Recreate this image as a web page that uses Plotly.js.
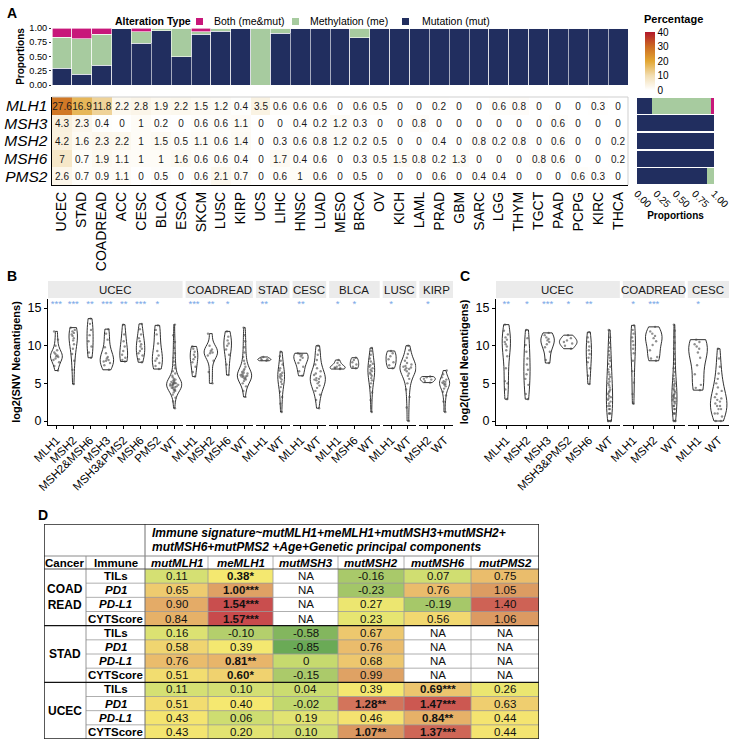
<!DOCTYPE html>
<html>
<head>
<meta charset="utf-8">
<script src="https://cdn.plot.ly/plotly-3.0.1.min.js"></script>
<style>
html,body{margin:0;padding:0;background:#ffffff;}
#chart{width:738px;height:746px;}
</style>
</head>
<body>
<div id="chart"></div>
<script>
// ================= DATA =================
// Panel A
const cancers = ['UCEC','STAD','COADREAD','ACC','CESC','BLCA','ESCA','SKCM','LUSC','KIRP','UCS','LIHC','HNSC','LUAD','MESO','BRCA','OV','KICH','LAML','PRAD','GBM','SARC','LGG','THYM','TGCT','PAAD','PCPG','KIRC','THCA'];
const mutProp  = [0.29,0.19,0.35,1,0.73,0.95,0.50,0.89,0.94,1,0,0.91,1,1,1,0.83,1,1,1,1,1,1,1,1,1,1,1,1,1];
const meProp   = [0.55,0.62,0.54,0,0.20,0.05,0.50,0.04,0.06,0,1,0.09,0,0,0,0.17,0,0,0,0,0,0,0,0,0,0,0,0,0];
const bothProp = [0.16,0.19,0.11,0,0.07,0,0,0.07,0,0,0,0,0,0,0,0,0,0,0,0,0,0,0,0,0,0,0,0,0];
const alterationTypes = ['Both (me&mut)','Methylation (me)','Mutation (mut)'];
const genes = ['MLH1','MSH3','MSH2','MSH6','PMS2'];
const pctMLH1 = [27.6,16.9,11.8,2.2,2.8,1.9,2.2,1.5,1.2,0.4,3.5,0.6,0.6,0.6,0,0.6,0.5,0,0,0.2,0,0,0.6,0.8,0,0,0,0.3,0];
const pctMSH3 = [4.3,2.3,0.4,0,1,0.2,0,0.6,0.6,1.1,0,0,0.4,0.2,1.2,0.3,0,0,0.8,0,0,0,0,0,0,0.6,0,0,0];
const pctMSH2 = [4.2,1.6,2.3,2.2,1,1.5,0.5,1.1,0.6,1.4,0,0.3,0.6,0.8,1.2,0.2,0.5,0,0,0.4,0,0.8,0.2,0.8,0,0.6,0,0,0.2];
const pctMSH6 = [7,0.7,1.9,1.1,1,1,1.6,0.6,0.6,0.4,0,1.7,0.4,0.6,0,0.3,0.5,1.5,0.8,0.2,1.3,0,0,0,0.8,0.6,0,0,0.2];
const pctPMS2 = [2.6,0.7,0.9,1.1,0,0.5,0,0.6,2.1,0.7,0,0.6,1,0.6,0,0.5,0,0,0,0.6,0,0.4,0.4,0,0,0,0.6,0.3,0];
const geneMutProp  = [0.20,1,1,1,0.905];
const geneMeProp   = [0.755,0,0,0,0.095];
const geneBothProp = [0.045,0,0,0,0];
const pctTicks  = [0,10,20,30,40];
const propTicks = [0,0.25,0.5,0.75,1];

// Panel B (log2 SNV neoantigens)
const snvFacets = ['UCEC','COADREAD','STAD','CESC','BLCA','LUSC','KIRP'];
const snvGroupsUCEC = ['MLH1','MSH2','MSH2&MSH6','MSH3','MSH3&PMS2','MSH6','PMS2','WT'];
const snvGroupsCOADREAD = ['MLH1','MSH2','MSH6','WT'];
const snvGroupsSTAD = ['MLH1','WT'];
const snvGroupsCESC = ['MLH1','WT'];
const snvGroupsBLCA = ['MLH1','MSH6','WT'];
const snvGroupsLUSC = ['MLH1','WT'];
const snvGroupsKIRP = ['MSH2','WT'];
const snvStarsUCEC = ['***','***','**','***','**','***','*',''];
const snvStarsCOADREAD = ['***','**','*',''];
const snvStarsSTAD = ['**',''];
const snvStarsCESC = ['**',''];
const snvStarsBLCA = ['*','*',''];
const snvStarsLUSC = ['*',''];
const snvStarsKIRP = ['*',''];
const snvUCEC = [
  [6.7,7.3,7.8,8.1,8.3,8.5,8.6,8.7,8.9,9.1,9.4,10.0,10.8,11.9],
  [4.9,6.8,8.0,8.9,9.6,10.2,10.7,11.0,11.3,11.5,11.7,11.9,12.1,12.4],
  [8.4,9.1,9.9,10.6,11.4,12.1,12.9,13.6],
  [6.8,7.4,7.7,7.9,8.0,8.1,8.3,8.5,9.0,9.8,10.8,11.6,12.2],
  [7.9,8.1,8.4,8.8,9.3,9.9,10.6,11.5,12.8],
  [7.8,8.2,8.7,9.0,9.3,9.6,9.9,10.2,10.6,11.0,11.5,12.2,12.9],
  [6.9,7.3,7.7,8.0,8.3,8.7,9.3,10.3,11.5,12.1,12.7],
  [1.7,2.6,3.1,3.5,3.8,4.0,4.1,4.2,4.3,4.4,4.5,4.5,4.6,4.7,4.7,4.8,4.8,4.9,4.9,5.0,5.0,5.1,5.1,5.2,5.3,5.4,5.5,5.6,5.8,6.0,6.3,6.6,7.0,7.4,7.9,8.4,9.0,9.7,10.5,11.4,12.8]
];
const snvCOADREAD = [
  [5.9,6.5,7.2,7.8,8.2,8.5,8.8,9.2,9.6,9.9],
  [5.0,6.5,8.0,8.7,9.0,9.1,9.3,9.5,10.0,11.6],
  [6.1,7.5,8.8,9.5,10.0,10.3,10.7,11.2,11.9],
  [3.2,4.0,4.6,5.0,5.3,5.5,5.6,5.7,5.8,5.9,5.9,6.0,6.0,6.1,6.2,6.3,6.4,6.5,6.7,6.9,7.2,7.6,8.0,8.5,9.1,9.8,10.6,11.4,12.4]
];
const snvSTAD = [
  [8.0,8.1,8.2,8.3,8.5],
  [1.2,2.3,3.2,3.9,4.5,4.9,5.2,5.5,5.7,5.9,6.0,6.2,6.4,6.7,7.0,7.5,8.0,8.6,9.2]
];
const snvCESC = [
  [6.0,6.6,7.2,7.7,8.1,8.4,8.6,8.8,8.9,9.0],
  [1.7,2.8,3.5,4.0,4.4,4.7,5.0,5.2,5.4,5.5,5.6,5.7,5.9,6.1,6.3,6.6,7.0,7.5,8.1,8.8,9.4,10.0]
];
const snvBLCA = [
  [6.9,7.0,7.0,7.1,7.2,7.4,7.7,8.1],
  [7.0,7.2,7.5,7.8,8.1,8.4],
  [1.2,2.8,3.8,4.5,5.0,5.4,5.7,6.0,6.2,6.4,6.6,6.8,7.0,7.2,7.4,7.6,7.9,8.3,8.8,9.3,9.7]
];
const snvLUSC = [
  [7.0,7.4,7.8,8.2,8.6,9.0,9.3],
  [0.0,1.8,3.2,4.2,5.0,5.6,6.0,6.3,6.6,6.8,6.9,7.0,7.1,7.2,7.3,7.5,7.7,8.0,8.4,8.9,9.4,10.0]
];
const snvKIRP = [
  [5.1,5.3,5.5,5.6,5.8,5.9],
  [1.2,2.6,3.4,3.9,4.3,4.6,4.8,4.9,5.0,5.1,5.2,5.3,5.5,5.8,6.2,6.7]
];

// Panel C (log2 Indel neoantigens)
const indelFacets = ['UCEC','COADREAD','CESC'];
const indelGroupsUCEC = ['MLH1','MSH2','MSH3','MSH3&PMS2','MSH6','WT'];
const indelGroupsCOADREAD = ['MLH1','MSH2','WT'];
const indelGroupsCESC = ['MLH1','WT'];
const indelStarsUCEC = ['**','*','***','*','**',''];
const indelStarsCOADREAD = ['*','***',''];
const indelStarsCESC = ['*',''];
const indelUCEC = [
  [2.9,4.2,5.0,5.3,7.0,8.6,9.4,9.9,10.2,10.5,10.8,11.1,11.5,12.0,12.8],
  [2.9,3.6,4.8,5.6,6.2,6.8,7.5,8.3,9.2,10.1,11.0,12.1],
  [7.7,8.1,9.2,9.8,10.2,10.5,10.7,10.9,11.1,11.4,11.7],
  [9.6,10.0,10.3,10.5,10.7,11.0,11.4],
  [4.9,6.0,7.0,7.8,8.4,8.9,9.4,9.9,10.5,11.1,11.8],
  [0,0,0,0,1,1,1,1.58,1.58,2,2,2.32,2.58,2.81,3,3.17,3.32,3.58,3.81,4,4.17,4.46,4.75,5,5.25,5.58,5.86,6.17,6.5,6.86,7.2,7.58,8,8.4,8.8,9.3,9.8,10.4,11.1,12.1]
];
const indelCOADREAD = [
  [2.3,3.6,5.1,6.6,8.0,9.0,9.6,10.1,10.6,11.1,11.6,12.1,12.7],
  [8.0,8.3,8.5,9.4,10.1,10.6,11.0,11.3,11.6,11.9,12.5],
  [0,0,0,1,1,1,1.58,1.58,2,2,2.32,2.58,2.58,2.81,3,3,3.17,3.32,3.46,3.58,3.81,4,4.17,4.32,4.58,4.81,5.0,5.3,5.6,6.0,6.5,7.0,7.6,8.2,8.9,9.6,10.4,11.2,12.0,12.8]
];
const indelCESC = [
  [4.1,4.4,4.8,6.2,7.4,8.4,9.1,9.6,9.9,10.2,10.5,10.8],
  [0,0,0.6,1,1,1.58,1.58,2,2,2.32,2.58,2.81,3,3.17,3.58,4,4.46,5,5.6,6.3,7.2,8.3,9.6]
];

// Panel D (table)
const tableCancers = ['COAD<br>READ','STAD','UCEC'];
const immuneRows = ['<b>TILs</b>','<b><i>PD1</i></b>','<b><i>PD-L1</i></b>','<b>CYTScore</b>'];
const tableCols = ['mutMLH1','meMLH1','mutMSH3','mutMSH2','mutMSH6','mutPMS2'];
const coadVals = [[0.11,0.38,null,-0.16,0.07,0.75],[0.65,1.00,null,-0.23,0.76,1.05],[0.90,1.54,null,0.27,-0.19,1.40],[0.84,1.57,null,0.23,0.56,1.06]];
const coadSig  = [['','*','','','',''],['','***','','','',''],['','***','','','',''],['','***','','','','']];
const stadVals = [[0.16,-0.10,-0.58,0.67,null,null],[0.58,0.39,-0.85,0.76,null,null],[0.76,0.81,0,0.68,null,null],[0.51,0.60,-0.15,0.99,null,null]];
const stadSig  = [['','','','','',''],['','','','','',''],['','**','','','',''],['','*','','','','']];
const ucecVals = [[0.11,0.10,0.04,0.39,0.69,0.26],[0.51,0.40,-0.02,1.28,1.47,0.63],[0.43,0.06,0.19,0.46,0.84,0.44],[0.43,0.20,0.10,1.07,1.37,0.44]];
const ucecSig  = [['','','','','***',''],['','','','**','***',''],['','','','','**',''],['','','','**','***','']];
const tableHeader1 = 'Immune signature~mutMLH1+meMLH1+mutMSH3+mutMSH2+';
const tableHeader2 = 'mutMSH6+mutPMS2 +Age+Genetic principal components';

// ================= STYLE / LAYOUT =================
const W = 738, H = 746;
const FONT = 'Liberation Sans, Arial, Helvetica, sans-serif';
const px = (a,b)=>[a/W, b/W];
const py = (t,b)=>[1-b/H, 1-t/H];
const xp = v => v/W;
const yp = v => 1 - v/H;
const NAVY = '#212e5f', GREEN = '#a7cb9f', PINK = '#c8177a';
const pctScale = [[0,'#ffffff'],[0.25,'#f2ddb0'],[0.5,'#e2a632'],[0.75,'#cc6a22'],[1,'#b2182b']];
const tabStops = [[-0.85,'#6aaa56'],[-0.16,'#a9c96a'],[0,'#c6da6e'],[0.11,'#d5e073'],[0.27,'#ece670'],[0.40,'#f5e870'],[0.56,'#f1d870'],[0.70,'#ecc46e'],[0.85,'#e6b068'],[1.05,'#dc9c62'],[1.30,'#d2705a'],[1.57,'#c84a4c']];
const TMIN = -0.85, TMAX = 1.57;
const tabScale = tabStops.map((s,i)=>[i===0?0:(i===tabStops.length-1?1:(s[0]-TMIN)/(TMAX-TMIN)), s[1]]);

const data = [];
const shapes = [];
const annotations = [];

const layout = {
  width: W, height: H, autosize: false,
  margin: {l:0, r:0, t:0, b:0, pad:0},
  paper_bgcolor: '#ffffff', plot_bgcolor: '#ffffff',
  font: {family: FONT, color: '#000000'},
  barmode: 'stack', bargap: 0, violinmode: 'overlay',
  showlegend: false,
  xaxis: {domain:px(52,628), anchor:'y', type:'category', range:[-0.5, cancers.length-0.5], showticklabels:false, ticks:'', showline:false, showgrid:false, zeroline:false},
  yaxis: {domain:py(28,85), anchor:'x', range:[0,1], tickvals:propTicks, tickformat:'.2f', ticks:'outside', ticklen:2, tickcolor:'#333', tickfont:{size:9.2}, showgrid:false, zeroline:false, showline:false,
    title:{text:'<b>Proportions</b>', font:{size:10}, standoff:2}},
  xaxis2: {domain:px(52,628), anchor:'y2', type:'category', tickmode:'array', tickvals:cancers, ticktext:cancers, tickangle:-90, tickfont:{size:14}, ticks:'', showline:true, linecolor:'#000', linewidth:1.2, showgrid:false, zeroline:false},
  yaxis2: {domain:py(97,185), anchor:'x2', type:'category', tickmode:'array', tickvals:genes, ticktext:genes, autorange:'reversed', tickfont:{size:15.5, style:'italic'}, ticks:'', showline:true, linecolor:'#000', linewidth:1.5, showgrid:false, zeroline:false},
  xaxis3: {domain:px(637,714), anchor:'y3', range:[0,1], tickvals:propTicks, tickformat:'.2f', tickangle:45, tickfont:{size:10}, ticks:'', showline:false, showgrid:false, zeroline:false,
    title:{text:'<b>Proportions</b>', font:{size:10}, standoff:2}},
  yaxis3: {domain:py(97,185), anchor:'x3', type:'category', autorange:'reversed', showticklabels:false, ticks:'', showline:false, showgrid:false, zeroline:false},
  shapes: shapes, annotations: annotations
};

// ---- Panel A traces ----
const altColors = [PINK, GREEN, NAVY];
[[mutProp,alterationTypes[2],NAVY],[meProp,alterationTypes[1],GREEN],[bothProp,alterationTypes[0],PINK]].forEach(([v,n,c])=>{
  data.push({type:'bar', x:cancers, y:v, name:n, xaxis:'x', yaxis:'y', marker:{color:c, line:{color:'#ffffff', width:0.6}}, hoverinfo:'skip', showlegend:false});
});
data.push({type:'heatmap', x:cancers, y:genes, z:[pctMLH1,pctMSH3,pctMSH2,pctMSH6,pctPMS2], xaxis:'x2', yaxis:'y2',
  zmin:0, zmax:40, colorscale:pctScale, texttemplate:'%{z}', textfont:{size:10, color:'#1a1a1a', family:FONT},
  hoverinfo:'skip', showlegend:false,
  colorbar:{x:xp(645), xanchor:'left', y:yp(32), yanchor:'top',
    len:58, lenmode:'pixels', thickness:10, thicknessmode:'pixels', outlinewidth:0, ticks:'', tickvals:pctTicks, tickfont:{size:10}, xpad:0, ypad:0}});
annotations.push({xref:'paper', yref:'paper', x:xp(642), y:yp(19.5), text:'<b>Percentage</b>', showarrow:false, xanchor:'left', yanchor:'middle', font:{size:11}});
[[geneMutProp,NAVY],[geneMeProp,GREEN],[geneBothProp,PINK]].forEach(([v,c])=>{
  data.push({type:'bar', orientation:'h', y:genes, x:v, xaxis:'x3', yaxis:'y3', width:0.9, marker:{color:c, line:{width:0}}, showlegend:false, hoverinfo:'skip'});
});
// heatmap panel border (top/right)
shapes.push({type:'line', xref:'x2 domain', yref:'y2 domain', x0:0, x1:1, y0:1, y1:1, line:{color:'#cfcfcf', width:1}});
shapes.push({type:'line', xref:'x2 domain', yref:'y2 domain', x0:1, x1:1, y0:0, y1:1, line:{color:'#cfcfcf', width:1}});
// legend (Alteration Type)
const LEG = {y:21.5, title:113, keys:[196,292,402], texts:[212,308,420], size:7};
annotations.push({xref:'paper', yref:'paper', x:xp(LEG.title), y:yp(LEG.y), text:'<b>Alteration Type</b>', showarrow:false, xanchor:'left', yanchor:'middle', font:{size:10.5}});
alterationTypes.forEach((t,i)=>{
  shapes.push({type:'rect', xref:'paper', yref:'paper', x0:xp(LEG.keys[i]), x1:xp(LEG.keys[i]+LEG.size), y0:yp(LEG.y+LEG.size/2), y1:yp(LEG.y-LEG.size/2), fillcolor:altColors[i], line:{width:0}});
  annotations.push({xref:'paper', yref:'paper', x:xp(LEG.texts[i]), y:yp(LEG.y), text:t, showarrow:false, xanchor:'left', yanchor:'middle', font:{size:10.5}});
});

// ---- Panels B & C ----
const STAR_Y = 15.5;
const violinWidthsB = [[0.7,0.5,0.36,0.8,0.46,0.5,0.6,0.9],[0.45,0.8,0.45,0.85],[0.78,0.4],[0.85,0.9],[0.9,0.5,0.4],[0.6,0.95],[0.9,0.6]];
const violinWidthsC = [[0.4,0.3,0.65,0.85,0.25,0.3],[0.22,0.8,0.25],[0.9,0.8]];

function buildFacets(cfg){
  const counts = cfg.groups.map(g=>g.length);
  const total = counts.reduce((a,b)=>a+b,0);
  const unit = (cfg.right - cfg.left - cfg.gap*(counts.length-1))/total;
  let pos = cfg.left;
  const yId = 'y'+cfg.yAx;
  cfg.facets.forEach((f,i)=>{
    const axN = cfg.firstAx + i;
    const xId = 'x'+axN;
    const start = pos, end = pos + counts[i]*unit;
    pos = end + cfg.gap;
    layout['xaxis'+axN] = {domain:px(start,end), anchor:yId, type:'category', categoryorder:'array', categoryarray:cfg.groups[i],
      tickmode:'array', tickvals:cfg.groups[i], ticktext:cfg.groups[i],
      range:[-0.5, counts[i]-0.5], tickangle:-45, tickfont:{size:11.5}, ticks:'outside', ticklen:3, tickcolor:'#000',
      showline:true, linecolor:'#000', linewidth:1, showgrid:false, zeroline:false};
    cfg.groups[i].forEach((g,j)=>{
      const vals = cfg.values[i][j];
      data.push({type:'violin', orientation:'v', x:vals.map(()=>g), y:vals, xaxis:xId, yaxis:yId, name:g,
        width:cfg.widths[i][j], scalemode:'width', spanmode:'hard', side:'both',
        points:'all', pointpos:0, jitter:0.6,
        marker:{size:2.4, color:'rgba(70,70,70,0.6)', line:{width:0}},
        line:{color:'#1a1a1a', width:0.9}, fillcolor:'rgba(255,255,255,0)',
        box:{visible:false}, meanline:{visible:false}, showlegend:false, hoverinfo:'skip'});
    });
    data.push({type:'scatter', mode:'text', x:cfg.groups[i], y:cfg.groups[i].map(()=>STAR_Y), text:cfg.stars[i],
      textfont:{size:9.5, color:'#78a6e6'}, xaxis:xId, yaxis:yId, showlegend:false, hoverinfo:'skip', cliponaxis:false});
    shapes.push({type:'rect', xref:xId+' domain', yref:'paper', x0:0, x1:1, y0:yp(298), y1:yp(281), fillcolor:'#ebebeb', line:{width:0}, layer:'below'});
    annotations.push({xref:xId+' domain', yref:'paper', x:0.5, y:yp(289.5), text:f, showarrow:false, font:{size:11.5, color:'#1a1a1a'}, xanchor:'center', yanchor:'middle'});
  });
  layout['yaxis'+cfg.yAx] = {domain:py(299,425), anchor:'x'+cfg.firstAx, range:[-0.53,16.2], tickvals:[0,5,10,15],
    ticks:'outside', ticklen:3, tickcolor:'#000', tickfont:{size:12.5}, showline:true, linecolor:'#000', linewidth:1,
    showgrid:false, zeroline:false, title:{text:'<b>'+cfg.yTitle+'</b>', font:{size:11}, standoff:4}};
}

buildFacets({facets:snvFacets,
  groups:[snvGroupsUCEC,snvGroupsCOADREAD,snvGroupsSTAD,snvGroupsCESC,snvGroupsBLCA,snvGroupsLUSC,snvGroupsKIRP],
  values:[snvUCEC,snvCOADREAD,snvSTAD,snvCESC,snvBLCA,snvLUSC,snvKIRP],
  stars:[snvStarsUCEC,snvStarsCOADREAD,snvStarsSTAD,snvStarsCESC,snvStarsBLCA,snvStarsLUSC,snvStarsKIRP],
  widths:violinWidthsB, firstAx:4, yAx:4, left:48, right:453, gap:3, yTitle:'log2(SNV Neoantigens)'});
buildFacets({facets:indelFacets,
  groups:[indelGroupsUCEC,indelGroupsCOADREAD,indelGroupsCESC],
  values:[indelUCEC,indelCOADREAD,indelCESC],
  stars:[indelStarsUCEC,indelStarsCOADREAD,indelStarsCESC],
  widths:violinWidthsC, firstAx:11, yAx:11, left:496, right:729, gap:3, yTitle:'log2(Indel Neoantigens)'});

// ---- Panel D table ----
const TBL = {left:44, cancerR:86, immuneR:145, colEdges:[145,208,273,338,404,471,539], top:524, hdrLine:556, colHdrBottom:569, bottom:739};
const tabZ = [...coadVals, ...stadVals, ...ucecVals];
const tabSig = [...coadSig, ...stadSig, ...ucecSig];
const nRows = tabZ.length;
const rowH = (TBL.bottom - TBL.colHdrBottom)/nRows;
const rowEdges = Array.from({length:nRows+1}, (_,i)=>TBL.colHdrBottom + i*rowH);
const RIGHT = TBL.colEdges[TBL.colEdges.length-1];
layout.xaxis14 = {domain:px(TBL.left, RIGHT), anchor:'y14', type:'linear', range:[TBL.left, RIGHT], visible:false, showgrid:false, zeroline:false};
layout.yaxis14 = {domain:py(TBL.top, TBL.bottom), anchor:'x14', type:'linear', range:[TBL.bottom, TBL.top], visible:false, showgrid:false, zeroline:false};
data.push({type:'heatmap', x:TBL.colEdges, y:rowEdges, z:tabZ, xaxis:'x14', yaxis:'y14', colorscale:tabScale, zmin:TMIN, zmax:TMAX, showscale:false, hoverinfo:'skip'});

const fmt = v => v===null ? 'NA' : (v===0 ? '0' : v.toFixed(2));
const colC = i => (TBL.colEdges[i]+TBL.colEdges[i+1])/2;
const rowC = r => (rowEdges[r]+rowEdges[r+1])/2;
tabZ.forEach((row,r)=>{
  row.forEach((v,c)=>{
    const s = tabSig[r][c];
    const t = s ? '<b>'+fmt(v)+s+'</b>' : fmt(v);
    annotations.push({xref:'x14', yref:'y14', x:colC(c), y:rowC(r), text:t, showarrow:false, font:{size:11.5, color:'#111'}, xanchor:'center', yanchor:'middle'});
  });
  annotations.push({xref:'x14', yref:'y14', x:(TBL.cancerR+TBL.immuneR)/2, y:rowC(r), text:immuneRows[r % immuneRows.length], showarrow:false, font:{size:11.5, color:'#000'}, xanchor:'center', yanchor:'middle'});
});
tableCols.forEach((c,i)=>{
  annotations.push({xref:'x14', yref:'y14', x:colC(i), y:(TBL.hdrLine+TBL.colHdrBottom)/2, text:'<b><i>'+c+'</i></b>', showarrow:false, font:{size:11.5}, xanchor:'center', yanchor:'middle'});
});
annotations.push({xref:'x14', yref:'y14', x:(TBL.left+TBL.cancerR)/2, y:(TBL.hdrLine+TBL.colHdrBottom)/2, text:'<b>Cancer</b>', showarrow:false, font:{size:11.5}, xanchor:'center', yanchor:'middle'});
annotations.push({xref:'x14', yref:'y14', x:(TBL.cancerR+TBL.immuneR)/2, y:(TBL.hdrLine+TBL.colHdrBottom)/2, text:'<b>Immune</b>', showarrow:false, font:{size:11.5}, xanchor:'center', yanchor:'middle'});
annotations.push({xref:'x14', yref:'y14', x:TBL.immuneR+5, y:533, text:'<b><i>'+tableHeader1+'</i></b>', showarrow:false, font:{size:12}, xanchor:'left', yanchor:'middle'});
annotations.push({xref:'x14', yref:'y14', x:TBL.immuneR+5, y:547, text:'<b><i>'+tableHeader2+'</i></b>', showarrow:false, font:{size:12}, xanchor:'left', yanchor:'middle'});
tableCancers.forEach((c,g)=>{
  const y0 = rowEdges[g*4], y1 = rowEdges[g*4+4];
  annotations.push({xref:'x14', yref:'y14', x:(TBL.left+TBL.cancerR)/2, y:(y0+y1)/2, text:'<b>'+c+'</b>', showarrow:false, font:{size:12}, xanchor:'center', yanchor:'middle'});
});
// table rules
const L = (x0,y0,x1,y1,col,w)=>shapes.push({type:'line', xref:'x14', yref:'y14', x0:x0, y0:y0, x1:x1, y1:y1, line:{color:col, width:w}, layer:'above'});
for(let r=1;r<nRows;r++){ if(r%4!==0) L(TBL.cancerR, rowEdges[r], RIGHT, rowEdges[r], '#9a9a9a', 0.8); }
for(let i=1;i<TBL.colEdges.length-1;i++){ L(TBL.colEdges[i], TBL.hdrLine, TBL.colEdges[i], TBL.bottom, '#9a9a9a', 0.8); }
L(TBL.cancerR, TBL.hdrLine, TBL.cancerR, TBL.bottom, '#8a8a8a', 0.9);
L(TBL.immuneR, TBL.top, TBL.immuneR, TBL.bottom, '#707070', 1);
L(TBL.left, TBL.hdrLine, RIGHT, TBL.hdrLine, '#8a8a8a', 1);
L(TBL.left, TBL.colHdrBottom, RIGHT, TBL.colHdrBottom, '#555', 1);
L(TBL.left, rowEdges[4], RIGHT, rowEdges[4], '#111', 1.2);
L(TBL.left, rowEdges[8], RIGHT, rowEdges[8], '#111', 1.2);
shapes.push({type:'rect', xref:'x14', yref:'y14', x0:TBL.left, x1:RIGHT, y0:TBL.top, y1:TBL.bottom, line:{color:'#222', width:1.5}, fillcolor:'rgba(0,0,0,0)', layer:'above'});

// ---- Panel letters ----
[['A',5,3],['B',5,266],['C',458,266],['D',36,505]].forEach(([t,x,y])=>{
  annotations.push({xref:'paper', yref:'paper', x:xp(x), y:yp(y), text:'<b>'+t+'</b>', showarrow:false, xanchor:'left', yanchor:'top', font:{size:14}});
});

Plotly.newPlot('chart', data, layout, {staticPlot:true, displayModeBar:false});
</script>
</body>
</html>
